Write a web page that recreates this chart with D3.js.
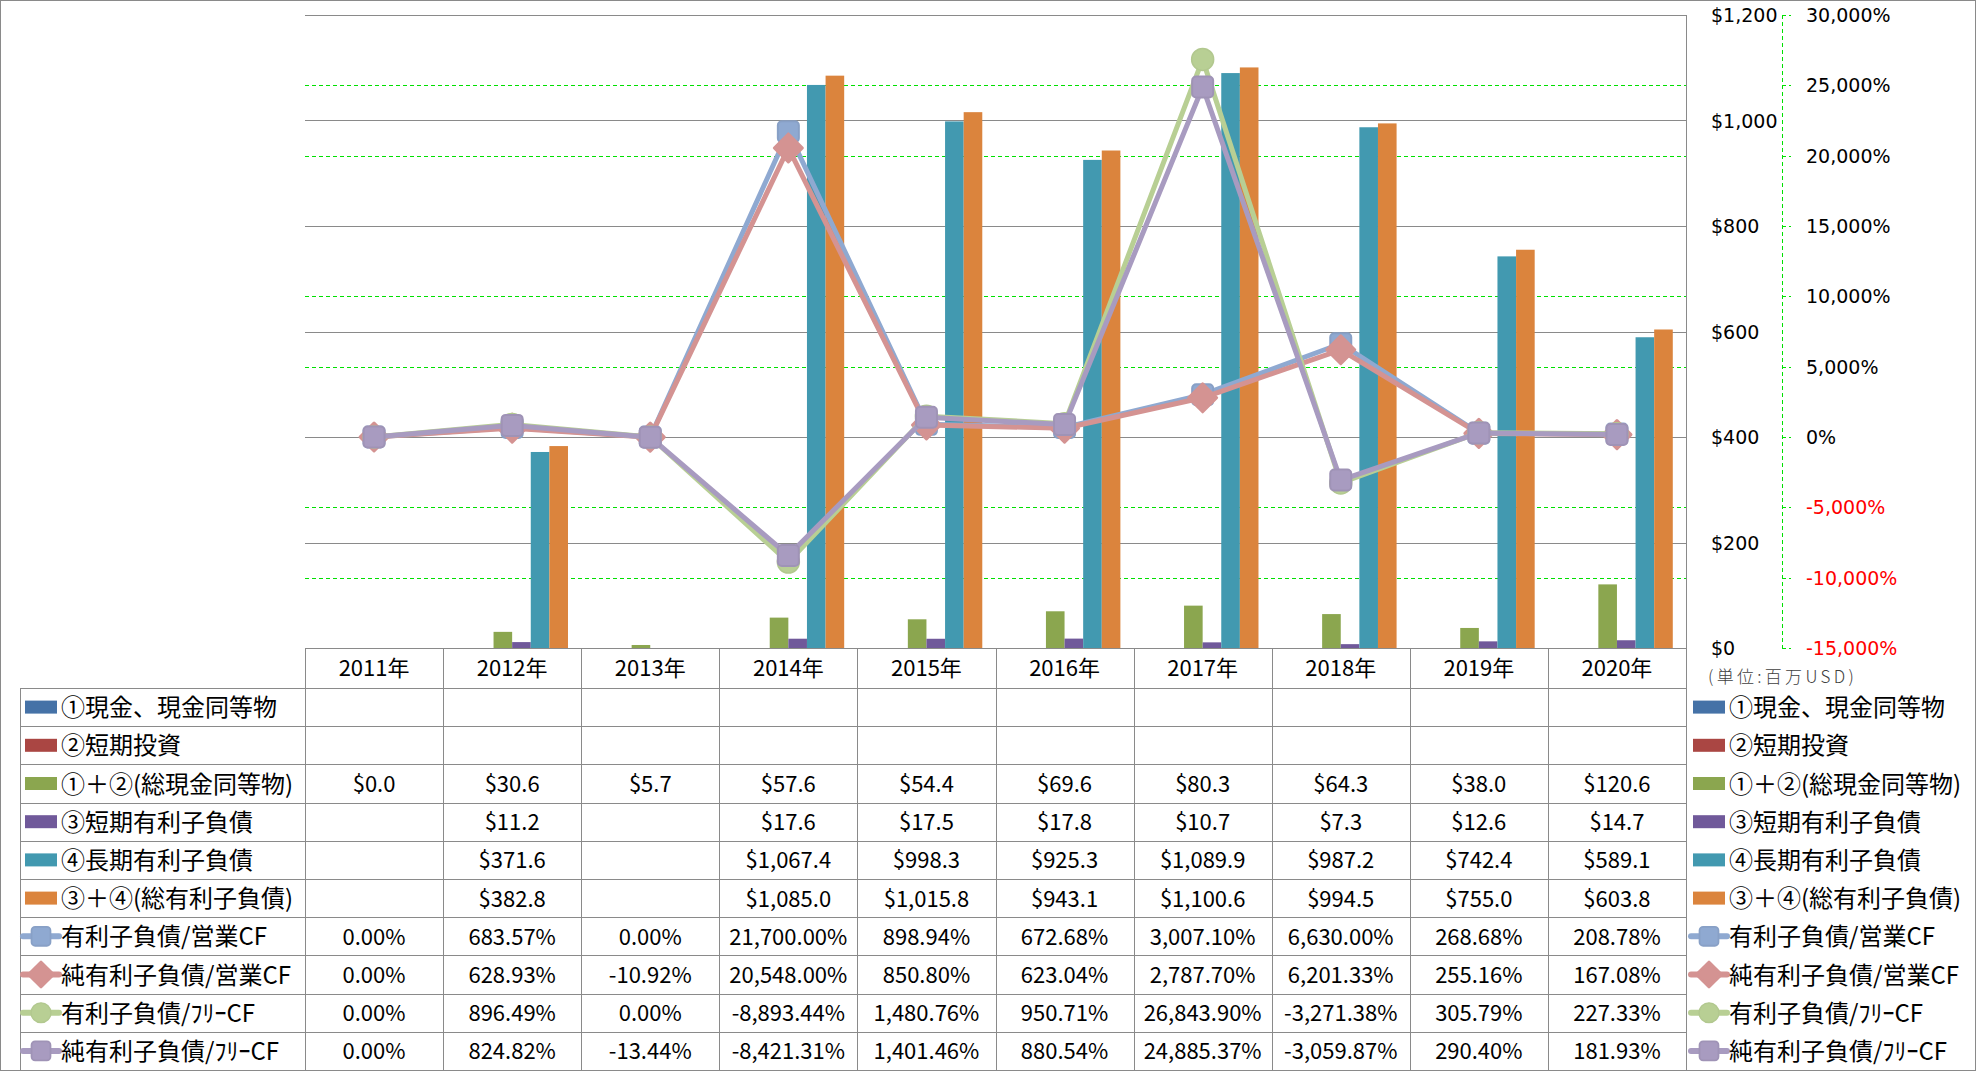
<!DOCTYPE html>
<html><head><meta charset="utf-8">
<script src="https://cdn.jsdelivr.net/npm/d3@7"></script>
<style>body{margin:0;background:#fff} svg{display:block}</style>
</head><body><svg id="c" width="1976" height="1071"></svg>
<script>
// ---- data ----
const years = ["2011年","2012年","2013年","2014年","2015年","2016年","2017年","2018年","2019年","2020年"];
const barNames = ["①現金、現金同等物","②短期投資","①＋②(総現金同等物)","③短期有利子負債","④長期有利子負債","③＋④(総有利子負債)"];
const lineNames = ["有利子負債/営業CF","純有利子負債/営業CF","有利子負債/ﾌﾘｰCF","純有利子負債/ﾌﾘｰCF"];
const cash       = [null,null,null,null,null,null,null,null,null,null];
const shortInv   = [null,null,null,null,null,null,null,null,null,null];
const cashTotal  = [0.0,30.6,5.7,57.6,54.4,69.6,80.3,64.3,38.0,120.6];
const shortDebt  = [null,11.2,null,17.6,17.5,17.8,10.7,7.3,12.6,14.7];
const longDebt   = [null,371.6,null,1067.4,998.3,925.3,1089.9,987.2,742.4,589.1];
const totalDebt  = [null,382.8,null,1085.0,1015.8,943.1,1100.6,994.5,755.0,603.8];
const debtOpCF    = [0.00,683.57,0.00,21700.00,898.94,672.68,3007.10,6630.00,268.68,208.78];
const netDebtOpCF = [0.00,628.93,-10.92,20548.00,850.80,623.04,2787.70,6201.33,255.16,167.08];
const debtFCF     = [0.00,896.49,0.00,-8893.44,1480.76,950.71,26843.90,-3271.38,305.79,227.33];
const netDebtFCF  = [0.00,824.82,-13.44,-8421.31,1401.46,880.54,24885.37,-3059.87,290.40,181.93];
const yTicks  = [0,200,400,600,800,1000,1200];
const y2Ticks = [-15000,-10000,-5000,0,5000,10000,15000,20000,25000,30000];
const unitLabel = "(単位:百万USD)";

// ---- styles ----
const barColors = ["#4572A7","#AA4643","#8BA64F","#70599A","#4299B0","#DB843D"];
const lineColors = ["#8FA9D1","#D49392","#B8CF94","#A89BC0"];
const markers = ["square","diamond","circle","square"];
const barData = [cash, shortInv, cashTotal, shortDebt, longDebt, totalDebt];
const lineData = [debtOpCF, netDebtOpCF, debtFCF, netDebtFCF];

const svg = d3.select("#c");
const L = 305, R = 1686, T = 15, B = 648;
const x = d3.scaleBand().domain(years).range([L, R]).padding(0);
const xs = d3.scaleBand().domain(d3.range(6)).range([0, x.bandwidth()]).paddingInner(0).paddingOuter(0.71);
const y = d3.scaleLinear().domain([0, 1200]).range([B, T]);
const y2 = d3.scaleLinear().domain([-15000, 30000]).range([B, T]);
const fmtNum = v => "$" + d3.format(",.1f")(v);
const fmtPct = v => d3.format(",.2f")(v).replace("\u2212", "-") + "%";
const fmtAx2 = v => d3.format(",")(v).replace("\u2212", "-") + "%";

svg.append("rect").attr("x",0.5).attr("y",0.5).attr("width",1975).attr("height",1070)
  .attr("fill","#fff").attr("stroke","#8a8a8a");

// green dashed gridlines (secondary)
svg.append("g").selectAll("line").data(y2Ticks.filter(v => v > -15000)).join("line")
  .attr("x1", L).attr("x2", R).attr("y1", d => Math.round(y2(d)) + 0.5).attr("y2", d => Math.round(y2(d)) + 0.5)
  .attr("stroke", "#00E000").attr("stroke-dasharray", "4,3");
// gray gridlines (primary)
svg.append("g").selectAll("line").data(yTicks).join("line")
  .attr("x1", L).attr("x2", R).attr("y1", d => Math.round(y(d)) + 0.5).attr("y2", d => Math.round(y(d)) + 0.5)
  .attr("stroke", "#8a8a8a");

// bars
barData.forEach((arr, si) => {
  svg.append("g").attr("fill", barColors[si]).selectAll("rect")
    .data(arr.map((v, i) => ({v, i})).filter(d => d.v != null && d.v > 0)).join("rect")
    .attr("x", d => x(years[d.i]) + xs(si)).attr("width", xs.bandwidth())
    .attr("y", d => y(d.v)).attr("height", d => y(0) - y(d.v));
});

// marker drawer
function drawMarker(g, type, cx, cy, color, scale) {
  const s = scale || 1;
  if (type === "square") {
    const a = 21 * s;
    g.append("rect").attr("x", cx - a/2).attr("y", cy - a/2).attr("width", a).attr("height", a)
      .attr("rx", 4*s).attr("fill", color).attr("stroke", d3.color(color).darker(0.15)).attr("stroke-width", 2*s);
  } else if (type === "diamond") {
    const a = 14 * s;
    g.append("path").attr("d", `M${cx},${cy-a}L${cx+a},${cy}L${cx},${cy+a}L${cx-a},${cy}Z`)
      .attr("fill", color).attr("stroke", color).attr("stroke-width", 3*s).attr("stroke-linejoin","round");
  } else {
    g.append("circle").attr("cx", cx).attr("cy", cy).attr("r", 11*s)
      .attr("fill", color).attr("stroke", d3.color(color).darker(0.1)).attr("stroke-width", 1.5*s);
  }
}

// lines
const cx = i => x(years[i]) + x.bandwidth()/2;
lineData.forEach((arr, si) => {
  const g = svg.append("g");
  g.append("path").datum(arr)
    .attr("d", d3.line().x((d, i) => cx(i)).y(d => y2(d)))
    .attr("fill", "none").attr("stroke", lineColors[si]).attr("stroke-width", 5).attr("stroke-linejoin", "round");
  arr.forEach((v, i) => drawMarker(g, markers[si], cx(i), y2(v), lineColors[si]));
});

// right primary axis line
svg.append("line").attr("x1", R + 0.5).attr("x2", R + 0.5).attr("y1", T).attr("y2", 1070).attr("stroke", "#8a8a8a");

// primary axis labels
svg.append("g").selectAll("text").data(yTicks).join("text")
  .attr("x", 1711).attr("y", d => y(d)).attr("dominant-baseline", "central")
  .attr("font-family", "DejaVu Sans").attr("font-size", 19).attr("fill", "#000")
  .text(d => "$" + d3.format(",")(d));

// secondary axis
const ax2 = 1782;
svg.append("line").attr("x1", ax2 + 0.5).attr("x2", ax2 + 0.5).attr("y1", T).attr("y2", B)
  .attr("stroke", "#00E000").attr("stroke-dasharray", "4,3");
svg.append("g").selectAll("line").data(y2Ticks).join("line")
  .attr("x1", ax2).attr("x2", ax2 + 9).attr("y1", d => Math.round(y2(d)) + 0.5).attr("y2", d => Math.round(y2(d)) + 0.5)
  .attr("stroke", "#00E000").attr("stroke-dasharray", "4,3");
svg.append("g").selectAll("text").data(y2Ticks).join("text")
  .attr("x", 1806).attr("y", d => y2(d)).attr("dominant-baseline", "central")
  .attr("font-family", "DejaVu Sans").attr("font-size", 19)
  .attr("fill", d => d < 0 ? "#FF0000" : "#000")
  .text(fmtAx2);

svg.append("text").attr("x", 1708).attr("y", 675).attr("dominant-baseline", "central")
  .attr("font-family", "Noto Sans CJK JP").attr("font-weight", 300).attr("font-size", 17)
  .attr("letter-spacing", 3.3).attr("fill", "#404040").text(unitLabel);

// ---- data table ----
const rowH = 38.2, hdrTop = B, hdrBot = 688;
const labelL = 20;
const tbl = svg.append("g").attr("stroke", "#8a8a8a").attr("fill", "none");
tbl.append("line").attr("x1", L).attr("x2", R).attr("y1", hdrTop + 0.5).attr("y2", hdrTop + 0.5);
for (let r = 0; r <= 10; r++) {
  const yy = Math.round(hdrBot + r * rowH) + 0.5;
  tbl.append("line").attr("x1", labelL).attr("x2", R).attr("y1", yy).attr("y2", yy);
}
tbl.append("line").attr("x1", labelL + 0.5).attr("x2", labelL + 0.5).attr("y1", hdrBot).attr("y2", hdrBot + 10*rowH);
years.forEach((yr, i) => {
  const xx = Math.round(x(yr)) + 0.5;
  tbl.append("line").attr("x1", xx).attr("x2", xx).attr("y1", hdrTop).attr("y2", hdrBot + 10*rowH);
});

const tf = "Noto Sans CJK JP";
svg.append("g").selectAll("text").data(years).join("text")
  .attr("x", d => x(d) + x.bandwidth()/2).attr("y", (hdrTop + hdrBot)/2 - 2)
  .attr("text-anchor", "middle").attr("dominant-baseline", "central")
  .attr("font-family", tf).attr("font-size", 22).attr("fill", "#000").text(d => d);

const rowNames = barNames.concat(lineNames);
const rowVals = barData.map(a => a.map(v => v == null ? "" : fmtNum(v)))
  .concat(lineData.map(a => a.map(v => v == null ? "" : fmtPct(v))));

rowNames.forEach((nm, r) => {
  const cy = hdrBot + r * rowH + rowH/2;
  const g = svg.append("g");
  [[25, 61], [1693, 1729]].forEach(([kx, tx]) => {
    if (r < 6) {
      g.append("rect").attr("x", kx).attr("y", cy - 6.5).attr("width", 32).attr("height", 13).attr("fill", barColors[r]);
    } else {
      const li = r - 6;
      g.append("line").attr("x1", kx - 2).attr("x2", kx + 34).attr("y1", cy).attr("y2", cy)
        .attr("stroke", lineColors[li]).attr("stroke-width", 6).attr("stroke-linecap", "round");
      drawMarker(g, markers[li], kx + 16, cy, lineColors[li], 0.9);
    }
    g.append("text").attr("x", tx).attr("y", cy - 1.5).attr("dominant-baseline", "central")
      .attr("font-family", tf).attr("font-size", 24).attr("fill", "#000").text(nm);
  });
  g.selectAll("text.v").data(rowVals[r]).join("text").attr("class", "v")
    .attr("x", (d, i) => x(years[i]) + x.bandwidth()/2).attr("y", cy - 1.5)
    .attr("text-anchor", "middle").attr("dominant-baseline", "central")
    .attr("font-family", tf).attr("font-size", 22).attr("fill", "#000").text(d => d);
});
</script>
</body></html>
